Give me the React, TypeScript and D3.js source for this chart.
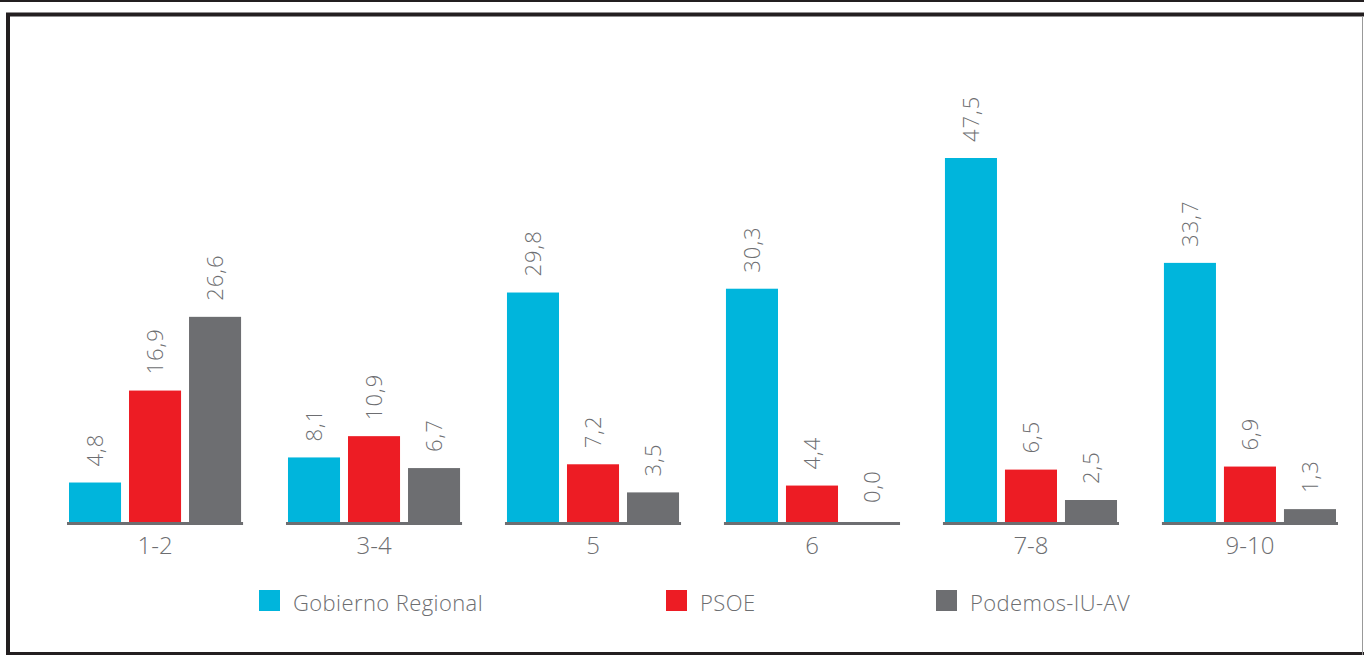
import React from "react";
import * as d3 from "d3";

const categories = ["1-2", "3-4", "5", "6", "7-8", "9-10"];
const seriesNames = ["Gobierno Regional", "PSOE", "Podemos-IU-AV"];
const gobierno = [4.8, 8.1, 29.8, 30.3, 47.5, 33.7];
const psoe = [16.9, 10.9, 7.2, 4.4, 6.5, 6.9];
const podemos = [26.6, 6.7, 3.5, 0.0, 2.5, 1.3];
const colors = ["#00b5dc", "#ed1c24", "#6d6e71"];

const seriesValues = [gobierno, psoe, podemos];
const fmt = (v: number) => v.toFixed(1).replace(".", ",");

export default function App() {
  const W = 1364, H = 655;
  const baseY = 522;
  const x0 = d3.scaleBand<string>().domain(categories).range([67, 1338]).paddingInner(0.196);
  const x1 = d3.scaleBand<string>().domain(seriesNames).range([2, x0.bandwidth() - 2]).paddingInner(0.133);
  const y = d3.scaleLinear().domain([0, 47.5]).range([519, 158]);
  const font = "'Open Sans', sans-serif";
  const textColor = "#6d6e71";
  const legendX = [259, 666, 936];

  return (
    <svg width={W} height={H} style={{ position: "absolute", left: 0, top: 0 }} fontFamily={font} fontWeight={300}>
      <rect x={0} y={0} width={W} height={H} fill="#fff" />
      <line x1={0} x2={W} y1={1} y2={1} stroke="#231f20" strokeWidth={2} />
      <path d={`M8,${H} V14.5 H${W}`} fill="none" stroke="#231f20" strokeWidth={4} />
      <line x1={6} x2={W} y1={653.5} y2={653.5} stroke="#231f20" strokeWidth={3} />
      <line x1={1362.5} x2={1362.5} y1={16} y2={H} stroke="#999" strokeWidth={1} />
      {categories.map((c, ci) => {
        const gx = x0(c)!;
        return (
          <g key={c} transform={`translate(${gx},0)`}>
            {seriesNames.map((s, si) => {
              const v = seriesValues[si][ci];
              const bx = x1(s)!;
              const by = y(v);
              return (
                <g key={s}>
                  {v > 0 && (
                    <rect x={bx} y={by} width={x1.bandwidth()} height={baseY - by} fill={colors[si]} />
                  )}
                  <text
                    transform={`translate(${bx + x1.bandwidth() / 2},${Math.min(by, baseY - 3) - 16}) rotate(-90)`}
                    dy="0.36em"
                    fontSize={22}
                    fill={textColor}
                    textAnchor="start"
                    letterSpacing={1}
                  >
                    {fmt(v)}
                  </text>
                </g>
              );
            })}
            <line x1={0} x2={x0.bandwidth()} y1={baseY + 1.5} y2={baseY + 1.5} stroke="#6d6e71" strokeWidth={3} />
            <text x={x0.bandwidth() / 2} y={554} textAnchor="middle" fontSize={24} fill={textColor}>
              {c}
            </text>
          </g>
        );
      })}
      {seriesNames.map((s, i) => (
        <g key={s} transform={`translate(${legendX[i]},590)`}>
          <rect x={0} y={0} width={21} height={21} fill={colors[i]} />
          <text x={34} y={20.5} fontSize={22} fill={textColor} letterSpacing={0.4}>
            {s}
          </text>
        </g>
      ))}
    </svg>
  );
}
